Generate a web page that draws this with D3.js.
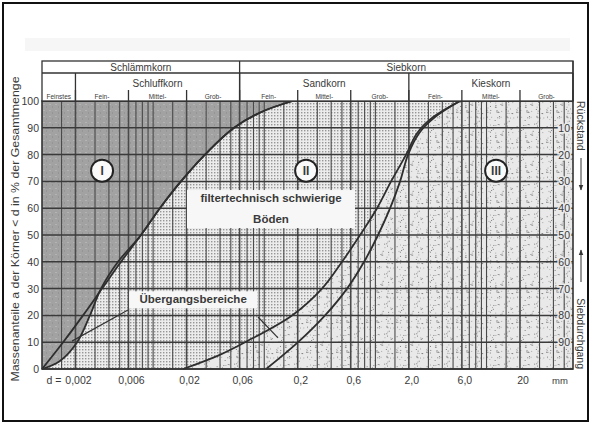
<!DOCTYPE html>
<html>
<head>
<meta charset="utf-8">
<script src="https://cdn.jsdelivr.net/npm/d3@7"></script>
<style>
body { margin: 0; background: #fff; }
text { font-family: "Liberation Sans", Arial, sans-serif; fill: #3a3a3a; }
</style>
</head>
<body>
<script>
// percent ticks (left = Siebdurchgang, right = Rückstand)
var leftTicks = [0, 10, 20, 30, 40, 50, 60, 70, 80, 90, 100];
var rightTicks = [10, 20, 30, 40, 50, 60, 70, 80, 90];

// grain size labels under the plot (mm)
var sizeTicks = [0.002, 0.006, 0.02, 0.06, 0.2, 0.6, 2, 6, 20];
var sizeLabels = ["0,002", "0,006", "0,02", "0,06", "0,2", "0,6", "2,0", "6,0", "20"];

// header rows: [label, from mm, to mm]
var headRow1 = [["Schlämmkorn", 0.001, 0.06], ["Siebkorn", 0.06, 60]];
var headRow2 = [["", 0.001, 0.002], ["Schluffkorn", 0.002, 0.06], ["Sandkorn", 0.06, 2], ["Kieskorn", 2, 60]];
var headRow3 = [["Feinstes", 0.001, 0.002], ["Fein-", 0.002, 0.006], ["Mittel-", 0.006, 0.02], ["Grob-", 0.02, 0.06],
                ["Fein-", 0.06, 0.2], ["Mittel-", 0.2, 0.6], ["Grob-", 0.6, 2],
                ["Fein-", 2, 6], ["Mittel-", 6, 20], ["Grob-", 20, 60]];

// boundary curves [d in mm, mass % < d]
var curveL1 = [[0.001, 0], [0.00155, 10], [0.00234, 20], [0.00347, 30], [0.00514, 40], [0.00778, 50],
               [0.0115, 60], [0.0178, 70], [0.0293, 80], [0.0535, 90], [0.0955, 96], [0.18, 100]];
var curveL2 = [[0.001, 0], [0.00145, 3], [0.00207, 10], [0.0027, 20], [0.0034, 30], [0.00483, 40], [0.00778, 50],
               [0.0115, 60], [0.0178, 70], [0.0293, 80], [0.0535, 90], [0.0955, 96], [0.18, 100]];
var curveB1 = [[0.0186, 0], [0.0384, 5], [0.0672, 10], [0.178, 20], [0.331, 30], [0.501, 40], [0.728, 50],
               [1.035, 60], [1.384, 70], [1.89, 80], [2.37, 88], [3.31, 94], [5.78, 100]];
var curveB2 = [[0.104, 0], [0.2015, 10], [0.3525, 20], [0.556, 30], [0.791, 40], [1.057, 50], [1.357, 60],
               [1.668, 70], [1.968, 80], [2.474, 88], [3.44, 94], [5.78, 100]];

// zone marks and notes [text, d, %]
var zoneMarks = [["I", 0.00347, 74], ["II", 0.238, 74], ["III", 12.2, 74]];
var notes = [["filtertechnisch schwierige", 0.115, 62.3], ["Böden", 0.115, 54.5], ["Übergangsbereiche", 0.0229, 24.5]];
var leaders = [[[0.00594, 22], [0.00186, 10.4]], [[0.0879, 19.4], [0.133, 11.6]]];

var width = 592, height = 425;

var svg = d3.select("body").append("svg")
    .attr("width", width)
    .attr("height", height);

var x = d3.scaleLog().domain([0.001, 60]).range([42, 573]);
var y = d3.scaleLinear().domain([0, 100]).range([369, 101]);

// fill patterns
var defs = svg.append("defs");
var pI = defs.append("pattern").attr("id", "patI").attr("patternUnits", "userSpaceOnUse")
    .attr("width", 6).attr("height", 6);
pI.append("rect").attr("width", 6).attr("height", 6).attr("fill", "#a2a2a2");
pI.append("rect").attr("x", 1).attr("y", 2).attr("width", 2).attr("height", 1).attr("fill", "#b4b4b4");
pI.append("rect").attr("x", 4).attr("y", 4).attr("width", 1).attr("height", 2).attr("fill", "#959595");

var pII = defs.append("pattern").attr("id", "patII").attr("patternUnits", "userSpaceOnUse")
    .attr("width", 3).attr("height", 3);
pII.append("rect").attr("width", 3).attr("height", 3).attr("fill", "#ececec");
pII.append("rect").attr("x", 1).attr("y", 1).attr("width", 1.4).attr("height", 1.4).attr("fill", "#969696");

var pIII = defs.append("pattern").attr("id", "patIII").attr("patternUnits", "userSpaceOnUse")
    .attr("width", 30).attr("height", 30);
pIII.append("rect").attr("width", 30).attr("height", 30).attr("fill", "#e9e9e9");
var seed = 7;
function lcg() { seed = (seed * 16807) % 2147483647; return seed / 2147483647; }
for (var i = 0; i < 70; i++) {
    pIII.append("rect").attr("x", lcg() * 30).attr("y", lcg() * 30)
        .attr("width", 0.9).attr("height", 0.9)
        .attr("fill", lcg() > 0.5 ? "#666" : "#999");
}

// faint scan band at top
svg.append("rect").attr("x", 25).attr("y", 38).attr("width", 545).attr("height", 13)
    .attr("fill", "#f6f6f6");

var line = d3.line()
    .x(function(d) { return x(d[0]); })
    .y(function(d) { return y(d[1]); })
    .curve(d3.curveCatmullRom.alpha(0.5));

function leftOf(pts) {
    return line(pts) + "L" + x.range()[0] + "," + y(100) + "L" + x.range()[0] + "," + y(0) + "Z";
}

// zones
svg.append("rect").attr("x", x(0.001)).attr("y", y(100))
    .attr("width", x(60) - x(0.001)).attr("height", y(0) - y(100))
    .attr("fill", "url(#patIII)");
svg.append("path").attr("d", leftOf(curveB1)).attr("fill", "url(#patII)");
svg.append("path").attr("d", leftOf(curveL1)).attr("fill", "url(#patI)");
svg.append("path").attr("d", leftOf(curveL2)).attr("fill", "url(#patI)");

// grid
var gridX = [];
for (var e = -3; e <= 1; e++) {
    for (var m = 1; m <= 9; m++) {
        var v = m * Math.pow(10, e);
        if (v > 0.001 && v < 60) gridX.push(+v.toPrecision(3));
    }
}
gridX.push(0.0015, 0.015, 0.15, 1.5, 15);
var grid = svg.append("g");
grid.selectAll(".vx").data(gridX).enter().append("line")
    .attr("x1", function(d) { return x(d); }).attr("x2", function(d) { return x(d); })
    .attr("y1", y(0)).attr("y2", y(100))
    .attr("stroke", "#4a4a4a")
    .attr("stroke-width", function(d) { return sizeTicks.indexOf(d) >= 0 ? 1.6 : 1.1; });
grid.selectAll(".hy").data(leftTicks).enter().append("line")
    .attr("x1", x(0.001)).attr("x2", x(60))
    .attr("y1", function(d) { return y(d); }).attr("y2", function(d) { return y(d); })
    .attr("stroke", "#3a3a3a").attr("stroke-width", 1.5);

// boundary curves
[curveL1, curveL2, curveB1, curveB2].forEach(function(c) {
    svg.append("path").attr("d", line(c))
        .attr("fill", "none").attr("stroke", "#2e2e2e").attr("stroke-width", 1.8);
});

// plot frame
svg.append("rect").attr("x", x(0.001)).attr("y", y(100))
    .attr("width", x(60) - x(0.001)).attr("height", y(0) - y(100))
    .attr("fill", "none").attr("stroke", "#333").attr("stroke-width", 1.6);

// header table
var hTop = 61, h1 = 73, h2 = 90, hBot = y(100);
var head = svg.append("g");
head.append("rect").attr("x", x(0.001)).attr("y", hTop)
    .attr("width", x(60) - x(0.001)).attr("height", hBot - hTop)
    .attr("fill", "#fff").attr("stroke", "#333").attr("stroke-width", 1.3);
head.append("line").attr("x1", x(0.001)).attr("x2", x(60)).attr("y1", h1).attr("y2", h1)
    .attr("stroke", "#333").attr("stroke-width", 1.3);
headRow1.forEach(function(r) {
    head.append("line").attr("x1", x(r[2])).attr("x2", x(r[2])).attr("y1", hTop).attr("y2", hBot)
        .attr("stroke", "#333").attr("stroke-width", 1.3);
    head.append("text").attr("x", (x(r[1]) + x(r[2])) / 2).attr("y", h1 - 2.5)
        .attr("text-anchor", "middle").attr("font-size", 10).text(r[0]);
});
headRow2.forEach(function(r) {
    head.append("line").attr("x1", x(r[2])).attr("x2", x(r[2])).attr("y1", h1).attr("y2", hBot)
        .attr("stroke", "#333").attr("stroke-width", 1.3);
    head.append("text").attr("x", (x(r[1]) + x(r[2])) / 2).attr("y", h2 - 3.5)
        .attr("text-anchor", "middle").attr("font-size", 10).text(r[0]);
});
headRow3.forEach(function(r) {
    head.append("line").attr("x1", x(r[2])).attr("x2", x(r[2])).attr("y1", h2).attr("y2", hBot)
        .attr("stroke", "#333").attr("stroke-width", 1.3);
    head.append("text").attr("x", (x(r[1]) + x(r[2])) / 2).attr("y", hBot - 2.5)
        .attr("text-anchor", "middle").attr("font-size", 6.5).attr("fill", "#555").text(r[0]);
});

// left axis labels
svg.selectAll(".ly").data(leftTicks).enter().append("text")
    .attr("x", 39).attr("y", function(d) { return y(d) + 4; })
    .attr("text-anchor", "end").attr("font-size", 10.5).text(function(d) { return d; });

// right axis (Rückstand)
svg.selectAll(".ry").data(rightTicks).enter().append("text")
    .attr("x", x(50)).attr("y", function(d) { return y(100 - d) + 4; })
    .attr("text-anchor", "middle").attr("font-size", 10.5)
    .attr("stroke", "#ebebeb").attr("stroke-width", 3).attr("paint-order", "stroke")
    .text(function(d) { return d; });

// bottom labels
svg.selectAll(".bx").data(sizeTicks).enter().append("text")
    .attr("x", function(d) { return x(d) + 3; }).attr("y", 384)
    .attr("text-anchor", "middle").attr("font-size", 10.5)
    .text(function(d, i) { return sizeLabels[i]; });
svg.append("text").attr("x", x(0.002) - 14).attr("y", 384)
    .attr("text-anchor", "end").attr("font-size", 10.5).text("d =");
svg.append("text").attr("x", 560).attr("y", 384)
    .attr("text-anchor", "middle").attr("font-size", 9.5).text("mm");

// axis titles
svg.append("text").attr("transform", "translate(19," + 229 + ") rotate(-90)")
    .attr("text-anchor", "middle").attr("font-size", 11.5)
    .attr("textLength", 305).attr("lengthAdjust", "spacingAndGlyphs")
    .text("Massenanteile a der Körner < d in % der Gesamtmenge");

defs.append("marker").attr("id", "arr").attr("viewBox", "0 0 10 10")
    .attr("refX", 9).attr("refY", 5).attr("markerWidth", 6).attr("markerHeight", 6)
    .attr("orient", "auto").append("path").attr("d", "M0,1L10,5L0,9Z").attr("fill", "#333");
svg.append("text").attr("transform", "translate(577," + y(100) + ") rotate(90)")
    .attr("font-size", 10.5).text("Rückstand");
svg.append("line").attr("x1", 581).attr("x2", 581).attr("y1", 158).attr("y2", 190)
    .attr("stroke", "#333").attr("stroke-width", 1).attr("marker-end", "url(#arr)");
svg.append("line").attr("x1", 581).attr("x2", 581).attr("y1", 282).attr("y2", 250)
    .attr("stroke", "#333").attr("stroke-width", 1).attr("marker-end", "url(#arr)");
svg.append("text").attr("transform", "translate(577," + y(0) + ") rotate(90)")
    .attr("text-anchor", "end").attr("font-size", 10.5).text("Siebdurchgang");

// leader lines
leaders.forEach(function(l) {
    svg.append("line").attr("x1", x(l[0][0])).attr("y1", y(l[0][1]))
        .attr("x2", x(l[1][0])).attr("y2", y(l[1][1]))
        .attr("stroke", "#333").attr("stroke-width", 1.2);
});

// note labels with light backing
var noteG = svg.append("g");
noteG.append("rect").attr("x", x(0.115) - 84).attr("y", y(62.3) - 12)
    .attr("width", 168).attr("height", 38).attr("fill", "#f7f7f7");
noteG.append("rect").attr("x", x(0.0229) - 64).attr("y", y(24.5) - 12)
    .attr("width", 128).attr("height", 17).attr("fill", "#f7f7f7");
noteG.selectAll("text").data(notes).enter().append("text")
    .attr("x", function(d) { return x(d[1]); }).attr("y", function(d) { return y(d[2]); })
    .attr("text-anchor", "middle").attr("font-size", 11.5).attr("font-weight", "bold")
    .attr("fill", "#222").text(function(d) { return d[0]; });

// zone marks
var zm = svg.selectAll(".zm").data(zoneMarks).enter().append("g")
    .attr("transform", function(d) { return "translate(" + x(d[1]) + "," + y(d[2]) + ")"; });
zm.append("circle").attr("r", 11).attr("fill", "#fafafa").attr("stroke", "#222").attr("stroke-width", 2);
zm.append("text").attr("y", 4.5).attr("text-anchor", "middle").attr("font-size", 12)
    .attr("font-weight", "bold").attr("fill", "#222").text(function(d) { return d[0]; });

// outer frame of the scan
svg.append("rect").attr("x", 3).attr("y", 3).attr("width", 585).attr("height", 418)
    .attr("fill", "none").attr("stroke", "#111").attr("stroke-width", 2);
</script>
</body>
</html>
